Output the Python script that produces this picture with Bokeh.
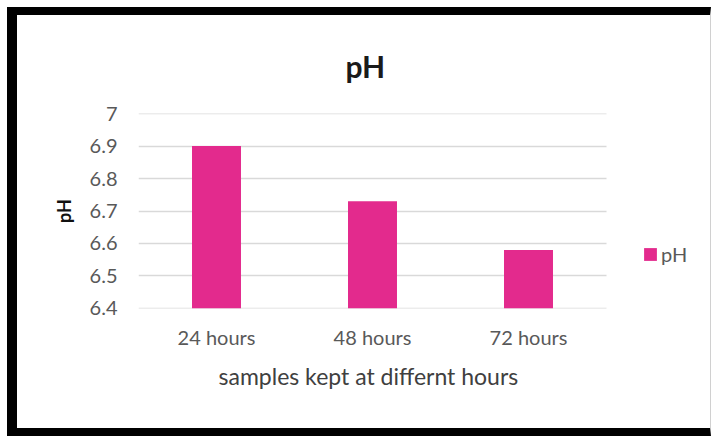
from bokeh.plotting import figure
from bokeh.layouts import column
from bokeh.models import (Range1d, FixedTicker, Legend, LegendItem,
                          ColumnDataSource, Title)
from bokeh.embed import file_html
from bokeh.resources import INLINE

# ---- data ----
categories = ["24 hours", "48 hours", "72 hours"]
ph_values = [6.9, 6.73, 6.58]
y_ticks = [6.4, 6.5, 6.6, 6.7, 6.8, 6.9, 7.0]
y_tick_labels = ["6.4", "6.5", "6.6", "6.7", "6.8", "6.9", "7"]
series_name = "pH"
chart_title = "pH"
x_title = "samples kept at differnt hours"
y_title = "pH"

FONT = "Lato"
BAR = "#E32A8D"
TXT = "#595959"

n = len(categories)
x_pos = [i + 0.5 for i in range(n)]          # category centres
src = ColumnDataSource(dict(x=x_pos, cat=categories, val=ph_values))

eps = 1e-6
# plot area also holds the legend on its right: categories take 468 of 562 px
x_end = n * 562 / 468
p = figure(width=693, height=413,
           x_range=Range1d(0, x_end),
           y_range=Range1d(y_ticks[0] - eps, y_ticks[-1] + eps),
           output_backend="svg", toolbar_location=None,
           min_border_left=121, min_border_right=10,
           min_border_top=98, min_border_bottom=120)

p.background_fill_color = "white"
p.border_fill_color = "white"
p.outline_line_color = None

r = p.vbar(x="x", top="val", bottom=y_ticks[0], width=0.314, source=src,
           fill_color=BAR, line_color=None)

# title
p.title.text = chart_title
p.title.align = "left"
p.title.offset = 207
p.title.text_font = FONT
p.title.text_font_size = "30px"
p.title.text_font_style = "bold"
p.title.text_color = "#1a1a1a"
p.title.standoff = 60

# axes
p.xaxis.ticker = FixedTicker(ticks=x_pos)
p.xaxis.major_label_overrides = {x: c for x, c in zip(x_pos, categories)}
p.xaxis.bounds = (0, n)
p.yaxis.ticker = FixedTicker(ticks=y_ticks)
p.yaxis.major_label_overrides = {t: l for t, l in zip(y_ticks, y_tick_labels)}
for ax in (p.xaxis[0], p.yaxis[0]):
    ax.axis_line_color = None
    ax.major_tick_line_color = None
    ax.minor_tick_line_color = None
    ax.major_label_text_font = FONT
    ax.major_label_text_font_size = "20px"
    ax.major_label_text_color = TXT
    ax.axis_label_text_font = FONT
    ax.axis_label_text_font_style = "normal"

p.xaxis.major_label_standoff = 10
p.yaxis.major_label_standoff = 15
p.yaxis.axis_label = y_title
p.yaxis.axis_label_text_font_size = "18px"
p.yaxis.axis_label_text_font_style = "bold"
p.yaxis.axis_label_text_color = "#111111"
p.yaxis.axis_label_standoff = 12

# x-axis title, centred under the three categories (not under the legend)
x_label = Title(text=x_title, align="left", offset=80, vertical_align="top",
                standoff=20, text_font=FONT, text_font_size="23px",
                text_font_style="normal", text_color="#404040")
p.add_layout(x_label, "below")

p.xgrid.grid_line_color = None
yg = p.ygrid[0]
if "cross_bounds" in yg.properties():
    yg.cross_bounds = (0, n)
    yg.grid_line_color = "#d9d9d9"
    yg.grid_line_width = 1.5
else:
    yg.grid_line_color = None
    p.segment(x0=0, x1=n, y0=y_ticks, y1=y_ticks, line_color="#d9d9d9",
              line_width=1.5, level="underlay")

# legend, right of the bars
legend = Legend(items=[LegendItem(label=series_name, renderers=[r])],
                location=(504, 42), glyph_width=16, glyph_height=16,
                label_text_font=FONT, label_text_font_size="20px",
                label_text_color=TXT, border_line_color=None,
                background_fill_alpha=0, padding=0, margin=0,
                label_standoff=3, spacing=0)
p.add_layout(legend)

# picture frame: a wrapper around the figure
page = column(p, styles={"margin-left": "7px", "margin-top": "7px",
                         "border-top": "8px solid black",
                         "border-left": "10px solid black",
                         "border-bottom": "8px solid black",
                         "border-right": "1px solid #d0d0d0",
                         "background-color": "white"})

open("out.html", "w").write(file_html(page, INLINE))
